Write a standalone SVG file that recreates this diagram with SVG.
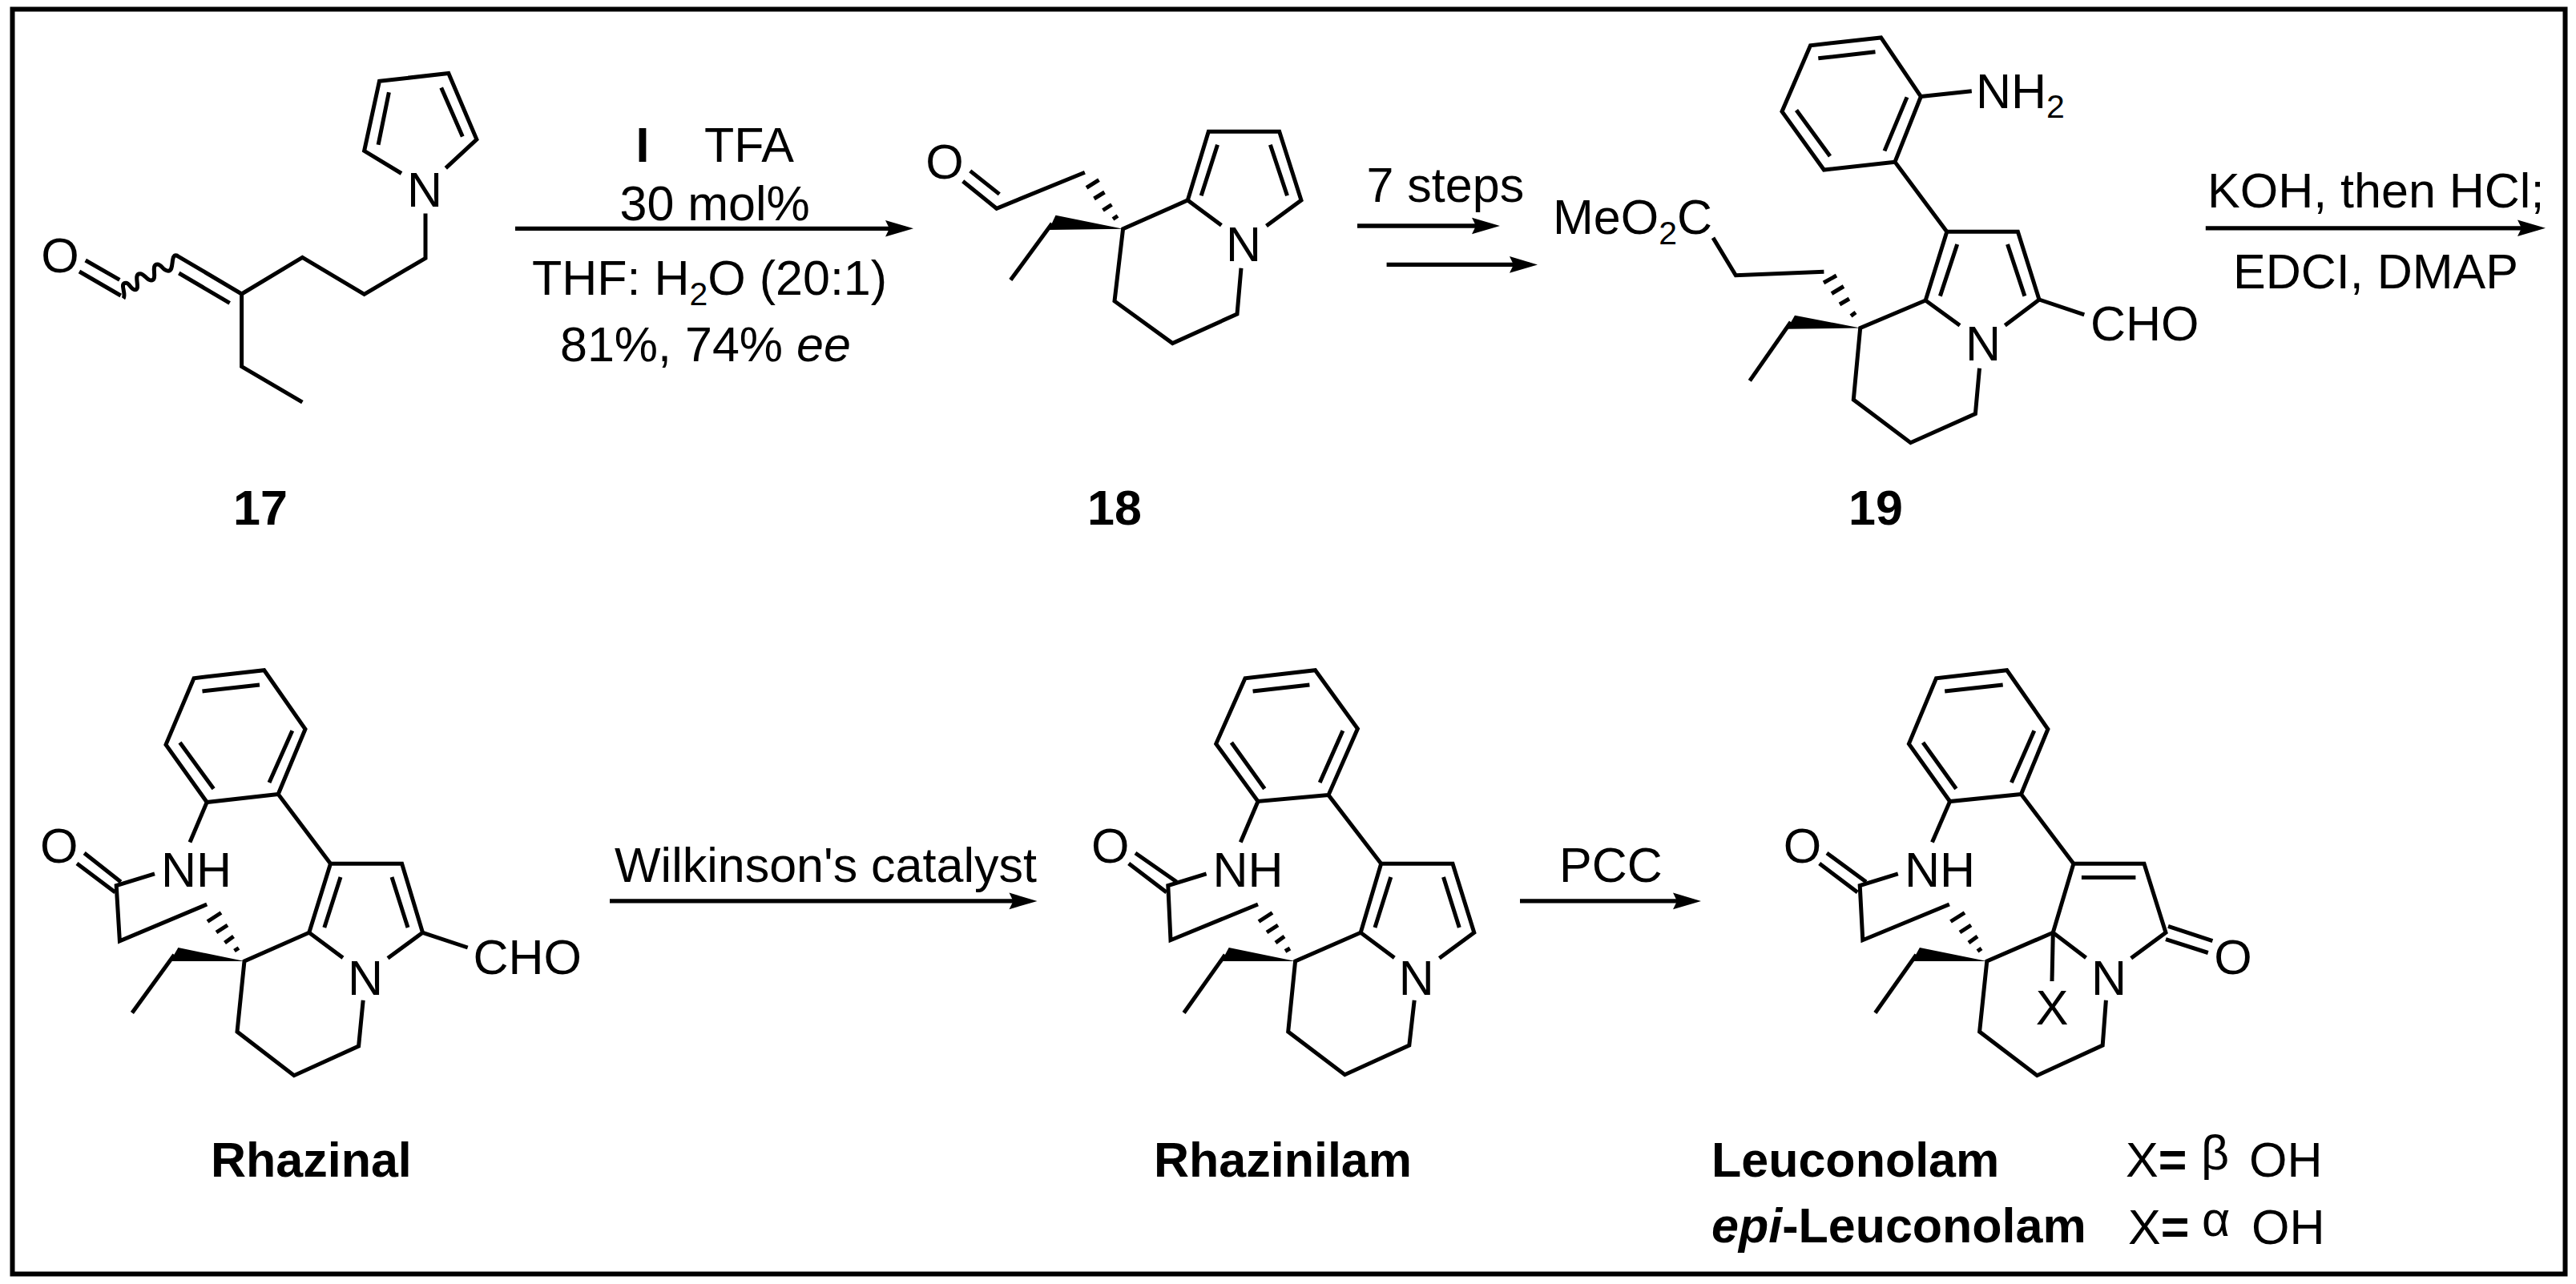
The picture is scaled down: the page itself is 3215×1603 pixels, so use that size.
<svg xmlns="http://www.w3.org/2000/svg" width="3215" height="1603" viewBox="0 0 3215 1603">
<style>
.b{fill:none;stroke:#000;stroke-width:5;stroke-linecap:butt;stroke-linejoin:miter}
.h{fill:none;stroke:#000;stroke-width:5}
.w{fill:#000;stroke:none}
.a{fill:none;stroke:#000;stroke-width:5.3;marker-end:url(#ah)}
text{font-family:"Liberation Sans",Arial,sans-serif;font-size:61px;fill:#000}
.m{text-anchor:middle}
.l{font-weight:bold}
.s{font-size:41px}
.i{font-style:italic}
</style>
<defs>
<marker id="ah" markerUnits="userSpaceOnUse" viewBox="0 0 40 24" markerWidth="40" markerHeight="24" refX="28" refY="12" orient="auto"><path d="M38 12L3 1.7L8 12L3 22.3Z" fill="#000"/></marker>
</defs>
<rect width="3215" height="1603" fill="#fff"/>
<rect x="15.5" y="11.5" width="3186" height="1579" fill="none" stroke="#000" stroke-width="6"/>

<g id="connectors">
<path class="a" d="M643 285.3H1130"/>
<path class="a" d="M1694 282H1862"/>
<path class="a" d="M1730.6 330.4H1909"/>
<path class="a" d="M2752.8 284.8H3167"/>
<path class="a" d="M761 1124.9H1284.5"/>
<path class="a" d="M1897 1124.9H2113"/>
</g>

<g id="conditions">
<text class="l" x="793.5" y="201.7">I</text><text x="879" y="201.7">TFA</text>
<text x="773.5" y="275">30 mol%</text>
<text x="664" y="368.3">THF: H<tspan class="s" dy="12.4">2</tspan><tspan dy="-12.4">O (20:1)</tspan></text>
<text x="699" y="450.7">81%, 74% <tspan class="i">ee</tspan></text>
<text x="1705.5" y="252">7 steps</text>
<text x="2755" y="259">KOH, then HCl;</text>
<text x="2787" y="360">EDCI, DMAP</text>
<text x="767" y="1101">Wilkinson's catalyst</text>
<text x="1946" y="1101">PCC</text>
</g>

<g id="compound-17">
<path class="b" d="M501 216.5L454.6 188.4L473.5 101.3L559.8 91.5L594.9 174L556.3 209.8"/>
<path class="b" d="M485.4 115.2L472.1 180.8M550.7 109.4L577.3 170.5"/>
<path class="b" d="M531 266.5V322.3L454.6 367.4L377.4 321.4L301.6 367L220.3 318.8M223.3 341L286.7 378.3"/>
<path class="b" d="M301.6 367V457.6L377.4 502.2"/>
<path class="b" d="M106.7 325L149.3 349.3M99 339L150.7 369"/>
<path class="h" d="M221.7 319.3C211.7 315 218.3 338.3 210 338.3C203.3 338.3 201.7 330 196.7 330C186.7 330 198.3 350 188.3 350C183.3 350 180 341.7 175 341.7C165 341.7 176.7 361.7 168.3 361.7C163.3 361.7 161.7 353.3 157.3 353.3C148.3 353.3 158.3 366.7 154 372.7"/>
<text class="m" x="75" y="340">O</text>
<text class="m" x="530" y="258">N</text>
<text class="l m" x="325" y="655">17</text>
</g>

<g id="compound-18">
<path class="b" d="M1210.8 213.4L1247.3 242.4M1201.7 226.3L1243.8 260.3L1353.9 215.2"/>
<path class="h" d="M1356 234.4L1371.5 224.6M1365.5 248L1378.5 240M1376.5 262.5L1387.5 255.5M1389 273.5L1395 269.5"/>
<path class="w" d="M1401.6 285.7L1317.5 268.8L1309 287Z"/>
<path class="b" d="M1313 279L1261.3 349.6"/>
<path class="b" d="M1549 334.8L1544 392L1463.4 428.6L1391 375.9L1401.6 285.7L1482.3 250L1524.4 281.3"/>
<path class="b" d="M1482.3 250L1508.3 164.3H1596.7L1624 250L1580.5 282"/>
<path class="b" d="M1519.5 180.8L1499.2 244.2M1585.4 180.8L1606.5 244.2"/>
<text class="m" x="1179" y="223">O</text>
<text class="m" x="1552" y="326">N</text>
<text class="l m" x="1391" y="655">18</text>
</g>

<g id="compound-19">
<path class="b" d="M2138 296.9L2166.3 343.8L2276.4 339.3"/>
<path class="h" d="M2276 353L2292 344M2286 366.5L2301 357.5M2296 380L2308 373M2310 394.5L2316 390"/>
<path class="w" d="M2321.7 409.4L2240 393.8L2230.4 410.7Z"/>
<path class="b" d="M2235 402L2183.8 475.4"/>
<path class="b" d="M2470.5 459.8L2465.4 516.5L2384.5 552.7L2313.3 499L2321.7 409.4L2403.2 375L2446 406.3"/>
<path class="b" d="M2403.2 375L2429.8 289.3H2518.4L2545 374L2502.3 406.3"/>
<path class="b" d="M2442.7 305L2421.4 369.6M2505.5 305L2526.9 369.6"/>
<path class="b" d="M2545 374L2601.3 392.9"/>
<path class="b" d="M2429.8 289.3L2365 202.2L2397.4 120.5L2347.6 46.9L2259.5 56.7L2224 139.3L2276.4 212L2365 202.2"/>
<path class="b" d="M2380 121.4L2352 188.4M2340.5 64.7L2269.3 72.8M2242 137.5L2284 195"/>
<path class="b" d="M2397.4 120.5L2460.8 113.8"/>
<text x="1938" y="292.4">MeO<tspan class="s" dy="12.4">2</tspan><tspan dy="-12.4">C</tspan></text>
<text x="2466" y="135">NH<tspan class="s" dy="12.4">2</tspan></text>
<text class="m" x="2475" y="450">N</text>
<text x="2609" y="425">CHO</text>
<text class="l m" x="2341" y="655">19</text>
</g>

<g id="rhazinal">
<path class="b" d="M412.5 1078.2L347.2 991.5L381 910.2L329.7 836.7L242 846.7L207 929.6L258.2 1001.5L347.2 991.5"/>
<path class="b" d="M364.8 912.3L336 976.9M324 855L252.5 863M224.5 927L266.6 984.7"/>
<path class="b" d="M385.8 1164.3L412.5 1078.2H501.6L527.5 1164.3L484 1196.3"/>
<path class="b" d="M425 1095L404.8 1158M489 1095L509 1158"/>
<path class="b" d="M428 1195.7L385.8 1164.3L305 1200L296 1288L367 1342.7L447.6 1306L453.2 1248.8"/>
<path class="b" d="M527.5 1164.3L583.7 1183"/>
<path class="w" d="M305 1200L222.4 1183L212.6 1200Z"/>
<path class="b" d="M217.5 1192L164.9 1264.5"/>
<path class="h" d="M259 1150.5L276 1139.5M270 1164L284 1155M280.5 1177L291.5 1169M292.5 1187L298 1183.5"/>
<path class="b" d="M258.2 1129L149.4 1174.8L145.2 1105.5L193 1090.8"/>
<path class="b" d="M105.2 1065L150.8 1101M96 1078L143.8 1113.9"/>
<path class="b" d="M258.2 1001.5L237 1051.4"/>
<text class="m" x="73.7" y="1076.6">O</text>
<text x="201" y="1107">NH</text>
<text class="m" x="456" y="1242">N</text>
<text x="590.5" y="1215.7">CHO</text>
<text class="l" x="263" y="1468.7">Rhazinal</text>
</g>

<g id="rhazinilam">
<path class="b" d="M1723.7 1078.2L1658 992.6L1694.4 909.7L1641.5 836.7L1554 846.7L1517.7 928.6L1570 1000.5L1658 992.6"/>
<path class="b" d="M1675.9 912.3L1647.2 976.9M1634.4 855L1563.6 863M1536.9 927L1578.3 984.7"/>
<path class="b" d="M1698.2 1164.3L1723.7 1078.2H1813L1839.8 1164.3L1796.4 1196.3"/>
<path class="b" d="M1735.8 1095L1716 1158M1801.5 1095L1821.3 1158"/>
<path class="b" d="M1740.3 1195.7L1698.2 1164.3L1616.6 1200L1607.7 1288L1678.4 1341.7L1758.8 1305L1765.2 1248.8"/>
<path class="w" d="M1616.6 1200L1533.7 1183L1524.7 1200Z"/>
<path class="b" d="M1529 1192L1477.6 1264.5"/>
<path class="h" d="M1571 1150.5L1588 1139.5M1581 1164L1595 1155M1592 1177L1603 1169M1604 1187.5L1610 1184"/>
<path class="b" d="M1570 1129L1461 1173.7L1457.8 1105.5L1505.6 1090.8"/>
<path class="b" d="M1417 1065L1468.6 1101M1408.7 1078L1455.9 1113.9"/>
<path class="b" d="M1570 1000.5L1548.3 1051.4"/>
<text class="m" x="1385.7" y="1076.6">O</text>
<text x="1513.5" y="1107">NH</text>
<text class="m" x="1767.7" y="1242">N</text>
<text class="l" x="1440" y="1468.7">Rhazinilam</text>
</g>

<g id="leuconolam">
<path class="b" d="M2587.9 1078.2L2522.5 991.5L2555.9 910.2L2504.7 836.7L2416.5 846.7L2382.4 928.6L2433.6 1000.5L2522.5 991.5"/>
<path class="b" d="M2538.8 912.3L2510.4 976.9M2499.7 855L2427.2 863M2400 927L2441.4 984.7"/>
<path class="b" d="M2562.3 1164.3L2587.9 1078.2H2676L2703 1164.3L2659.7 1196.3"/>
<path class="b" d="M2597.9 1095.5H2665.4"/>
<path class="b" d="M2603.5 1195.7L2562.3 1164.3L2479.8 1200L2470.6 1288L2542.4 1342.7L2624.2 1305L2628.4 1248.8"/>
<path class="b" d="M2562.3 1164.3L2561 1225"/>
<path class="b" d="M2706 1156.4L2761.4 1174.7M2703 1172.7L2755.8 1189.5"/>
<path class="w" d="M2479.8 1200L2395.9 1183L2386.6 1200Z"/>
<path class="b" d="M2391.6 1192L2340.4 1264.5"/>
<path class="h" d="M2434.5 1150.5L2452 1139.5M2446 1164L2460 1155M2457 1177L2468 1169M2468 1187.5L2473 1184"/>
<path class="b" d="M2432.9 1129L2324.8 1173.7L2321.2 1105.5L2368.8 1090.8"/>
<path class="b" d="M2280 1065L2329 1101M2270.7 1078L2318.3 1113.9"/>
<path class="b" d="M2433.6 1000.5L2411.5 1051.4"/>
<text class="m" x="2249.4" y="1076.6">O</text>
<text x="2377" y="1107">NH</text>
<text class="m" x="2632" y="1242">N</text>
<text class="m" x="2561" y="1278.7">X</text>
<text class="m" x="2787" y="1215.7">O</text>
<text class="l" x="2136" y="1468.7">Leuconolam</text>
<text class="l" x="2136" y="1550.6"><tspan class="i">epi</tspan>-Leuconolam</text>
<text x="2653" y="1469.3">X<tspan class="l">=</tspan></text><text x="2747" y="1460">β</text><text x="2807" y="1469.3">OH</text>
<text x="2656" y="1552.7">X<tspan class="l">=</tspan></text><text x="2748" y="1543">α</text><text x="2810" y="1552.7">OH</text>
</g>
</svg>
